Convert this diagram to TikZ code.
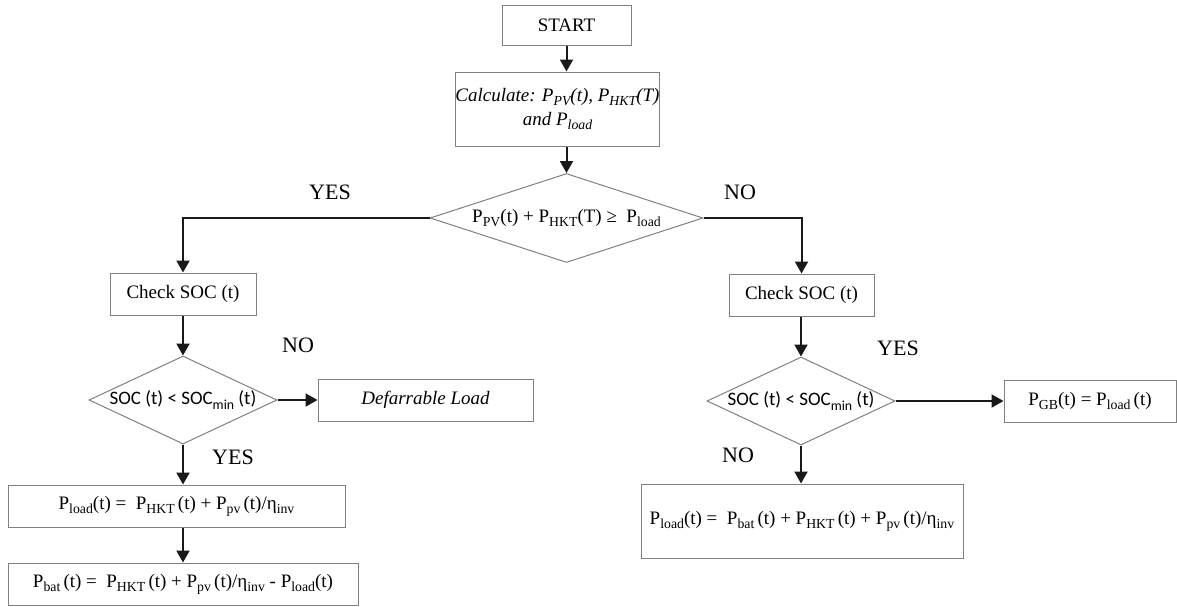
\documentclass[tikz,border=0pt]{standalone}
\usepackage{fontspec}
\setmainfont{Liberation Serif}
\newfontfamily\calibrifont{Carlito}
\usetikzlibrary{shapes.geometric,arrows.meta}
\newcommand\lsb[1]{\raisebox{-0.45ex}{\fontsize{6.9}{7}\selectfont #1}}
\begin{document}
\begin{tikzpicture}[x=0.5pt,y=-0.5pt,
  box/.style={draw=black!50, line width=0.5pt, inner sep=0pt, align=center,
    font=\fontsize{9.5}{12}\selectfont},
  dia/.style={diamond, draw=black!50, line width=0.5pt, inner sep=0pt, align=center,
    font=\fontsize{9.5}{12}\selectfont},
  lbl/.style={inner sep=0pt, font=\fontsize{11}{13}\selectfont},
  conn/.style={draw=black!90, line width=1pt, -{Triangle[width=6.5pt,length=6pt]}}]
\useasboundingbox (0,0) rectangle (1177,606);

\node[box, minimum width=64.5pt, minimum height=20pt] (start) at (566.5,25) {START};
\node[box, minimum width=99.5pt, minimum height=37pt, font=\fontsize{9.5}{12}\selectfont\itshape] (calc) at (557.5,109)
  {Calculate: P\lsb{PV}(t), P\lsb{HKT}(T)\\and P\lsb{load}};
\node[dia, minimum width=136.5pt, minimum height=44.5pt, shape aspect=3.07] (d1) at (566.5,218)
  {P\lsb{PV}(t) + P\lsb{HKT}(T) ≥\ \ P\lsb{load}};
\node[lbl] (yes1) at (330,192) {YES};
\node[lbl] (no1) at (740,192) {NO};

% left branch
\node[box, minimum width=73pt, minimum height=21pt] (chk1) at (183,294) {Check SOC (t)};
\node[dia, minimum width=94pt, minimum height=44pt, shape aspect=2.14, font=\fontsize{9.5}{12}\calibrifont] (d2) at (183,400)
  {SOC (t) < SOC\lsb{min} (t)};
\node[box, minimum width=107.5pt, minimum height=21pt, font=\fontsize{9.5}{12}\selectfont\itshape] (defl) at (425.5,400) {Defarrable Load};
\node[lbl] (no2) at (298,345) {NO};
\node[lbl] (yes2) at (233,457) {YES};
\node[box, minimum width=168.5pt, minimum height=21pt] (pl1) at (176.5,506)
  {P\lsb{load}(t) =\ \ P\lsb{HKT}\,(t) + P\lsb{pv}\,(t)/η\lsb{inv}};
\node[box, minimum width=175pt, minimum height=21pt] (pb) at (183,584)
  {P\lsb{bat}\,(t) =\ \ P\lsb{HKT}\,(t) + P\lsb{pv}\,(t)/η\lsb{inv} - P\lsb{load}(t)};

% right branch
\node[box, minimum width=72.5pt, minimum height=21pt] (chk2) at (801.5,295) {Check SOC (t)};
\node[dia, minimum width=94pt, minimum height=44pt, shape aspect=2.14, font=\fontsize{9.5}{12}\calibrifont] (d3) at (801,401)
  {SOC (t) < SOC\lsb{min} (t)};
\node[lbl] (yes3) at (898,348) {YES};
\node[box, minimum width=86pt, minimum height=21pt] (pgb) at (1090,401)
  {P\lsb{GB}(t) = P\lsb{load}\,(t)};
\node[lbl] (no3) at (738,455) {NO};
\node[box, minimum width=161pt, minimum height=37pt] (pl2) at (802,521)
  {P\lsb{load}(t) =\ \ P\lsb{bat}\,(t) + P\lsb{HKT}\,(t) + P\lsb{pv}\,(t)/η\lsb{inv}};

% connectors
\draw[conn] (start.south) -- (start.south |- calc.north);
\draw[conn] (start.south |- calc.south) -- (d1.north);
\draw[conn] (d1.west) -| (chk1.north);
\draw[conn] (d1.east) -| (chk2.north);
\draw[conn] (chk1.south) -- (d2.north);
\draw[conn] (d2.east) -- (defl.west);
\draw[conn] (d2.south) -- (d2.south |- pl1.north);
\draw[conn] (d2.south |- pl1.south) -- (d2.south |- pb.north);
\draw[conn] (d3.north |- chk2.south) -- (d3.north);
\draw[conn] (d3.east) -- (pgb.west);
\draw[conn] (d3.south) -- (d3.south |- pl2.north);
\end{tikzpicture}
\end{document}
